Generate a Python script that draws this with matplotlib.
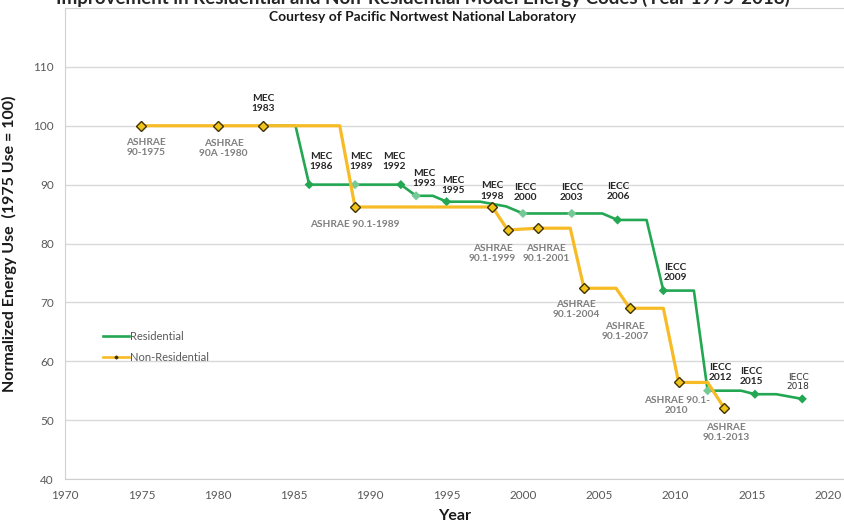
import matplotlib
matplotlib.use("Agg")
import matplotlib.pyplot as plt
from matplotlib.lines import Line2D

plt.rcParams['font.family'] = ['Lato', 'DejaVu Sans']

# Non-residential (ASHRAE 90 / 90.1) path
nonres_line_year = [1975, 1980, 1983, 1988, 1989, 1998, 1999, 2001, 2003.1, 2004, 2006.1, 2007, 2009.2, 2010.2, 2012.1, 2013.2]
nonres_line_value = [100, 100, 100, 100, 86.2, 86.2, 82.3, 82.6, 82.6, 72.4, 72.4, 69.0, 69.0, 56.4, 56.4, 52.0]
# code editions (marked points)
nonres_code_year = [1975, 1980, 1983, 1989, 1998, 1999, 2001, 2004, 2007, 2010.2, 2013.2]
nonres_code_value = [100, 100, 100, 86.2, 86.2, 82.3, 82.6, 72.4, 69.0, 56.4, 52.0]

# Residential (MEC / IECC) path
res_line_year = [1983, 1985.1, 1986, 1989, 1992, 1993, 1994.1, 1995, 1997.2, 1998.9, 2000, 2003.2, 2005.2, 2006.2, 2008.1, 2009.2, 2011.2, 2012.1, 2014.3, 2015.2, 2016.6, 2018.3]
res_line_value = [100, 100, 90.0, 90.0, 90.0, 88.1, 88.1, 87.1, 87.1, 86.3, 85.1, 85.1, 85.1, 84.0, 84.0, 72.0, 72.0, 55.0, 55.0, 54.4, 54.4, 53.6]
res_code_year = [1986, 1989, 1992, 1993, 1995, 2000, 2003.2, 2006.2, 2009.2, 2012.1, 2015.2, 2018.3]
res_code_value = [90.0, 90.0, 90.0, 88.1, 87.1, 85.1, 85.1, 84.0, 72.0, 55.0, 54.4, 53.6]

# labels: (text, year, value)
res_labels = [
    ("MEC\n1983", 1983, 100), ("MEC\n1986", 1986, 90.0), ("MEC\n1989", 1989, 90.0),
    ("MEC\n1992", 1992, 90.0), ("MEC\n1993", 1993, 88.1), ("MEC\n1995", 1995, 87.1),
    ("MEC\n1998", 1998, 86.2), ("IECC\n2000", 2000, 85.1), ("IECC\n2003", 2003.2, 85.1),
    ("IECC\n2006", 2006.2, 84.0), ("IECC\n2009", 2009.2, 72.0), ("IECC\n2012", 2012.1, 55.0),
    ("IECC\n2015", 2015.2, 54.4),
]
nonres_labels = [
    ("ASHRAE\n90-1975", 1975, 100), ("ASHRAE\n90A -1980", 1980, 100),
    ("ASHRAE 90.1-1989", 1989, 86.2), ("ASHRAE\n90.1-1999", 1999, 82.3),
    ("ASHRAE\n90.1-2001", 2001, 82.6), ("ASHRAE\n90.1-2004", 2004, 72.4),
    ("ASHRAE\n90.1-2007", 2007, 69.0), ("ASHRAE 90.1-\n2010", 2010.2, 56.4),
    ("ASHRAE\n90.1-2013", 2013.2, 52.0),
]
# label offsets in pixels (dx, dy up)
res_offsets = [(0, 22), (12, 23), (6, 23), (-7, 23), (8, 17), (7, 16), (0, 16),
               (2, 21), (0, 21), (1, 28), (12, 18), (13, 18), (-4, 18)]
nonres_offsets = [(5, -22), (6, -23), (0, -18), (-15, -24), (8, -25), (-8, -21),
                  (-5, -23), (-2, -23), (2, -24)]

green = '#23a752'
green_light = '#74c994'
gold = '#f7bb26'
gray_txt = '#7f7f7f'

# a few residential markers look washed out in the source image
light_idx = [1, 3, 5, 6, 9]
marker_colors = [green_light if i in light_idx else green for i in range(len(res_code_year))]

fig = plt.figure(figsize=(8.45, 5.22), dpi=100)
ax = fig.add_axes([65 / 845, 43 / 522, 780 / 845, 471 / 522])

ax.plot(res_line_year, res_line_value, color=green, lw=1.9, zorder=2, solid_joinstyle='round')
ax.scatter(res_code_year, res_code_value, marker='D', c=marker_colors, s=22, linewidths=0, zorder=3)
ax.plot(nonres_line_year, nonres_line_value, color=gold, lw=2.3, zorder=4, solid_joinstyle='round')
ax.plot(nonres_code_year, nonres_code_value, 'D', mfc='#f0c419', mec='#3f3200', mew=1.0, ms=5.3, ls='none', zorder=5)

for (txt, x, y), (dx, dy) in zip(res_labels, res_offsets):
    ax.annotate(txt, (x, y), xytext=(dx, dy), textcoords='offset pixels', ha='center', va='center',
                fontsize=7.3, fontweight='bold', color='#262626', linespacing=1.15, zorder=6)
for (txt, x, y), (dx, dy) in zip(nonres_labels, nonres_offsets):
    ax.annotate(txt, (x, y), xytext=(dx, dy), textcoords='offset pixels', ha='center', va='center',
                fontsize=7.3, fontweight='bold', color=gray_txt, linespacing=1.15, zorder=6)
ax.annotate("IECC\n2018", (2018.3, 53.6), xytext=(-4, 17), textcoords='offset pixels', ha='center',
            va='center', fontsize=6.5, color='#333333', family=['DejaVu Sans'], linespacing=1.1, zorder=6)

ax.set_xlim(1970, 2021.1)
ax.set_ylim(40, 120)
ax.set_xticks(range(1970, 2021, 5))
ax.set_yticks(range(40, 111, 10))
ax.tick_params(length=0, labelsize=8.5, labelcolor='#595959', pad=8)
ax.grid(axis='y', color='#d9d9d9', lw=1)
ax.set_axisbelow(True)
for s in ['left', 'bottom', 'top']:
    ax.spines[s].set_color('#d0d0d0')
ax.spines['right'].set_visible(False)

ax.set_ylabel('Normalized Energy Use  (1975 Use = 100)', fontsize=11.5, fontweight='bold', color='#1a1a1a', labelpad=12)
ax.set_xlabel('Year', fontsize=11.5, fontweight='bold', color='#1a1a1a', labelpad=6)

handles = [Line2D([], [], color=green, lw=1.9),
           Line2D([], [], color=gold, lw=1.9, marker='D', ms=1.5, mfc='#3f3200', mec='#3f3200')]
ax.legend(handles, ['Residential', 'Non-Residential'], loc='upper left', bbox_to_anchor=(0.036, 0.335),
          frameon=False, handlelength=2.3, handletextpad=0.1, labelspacing=0.9, prop={'size': 8},
          labelcolor='#595959')

# the source screenshot crops the top half of the main title
fig.text(0.5, 1 - 4 / 522, 'Improvement in Residential and Non-Residential Model Energy Codes (Year 1975-2018)',
         ha='center', va='baseline', fontsize=13.5, fontweight='bold', color='#262626')
fig.text(423 / 845, 1 - 17 / 522, 'Courtesy of Pacific Nortwest National Laboratory', ha='center', va='center',
         fontsize=10, fontweight='bold', color='#1a1a1a')

fig.savefig('out.png', dpi=100)
